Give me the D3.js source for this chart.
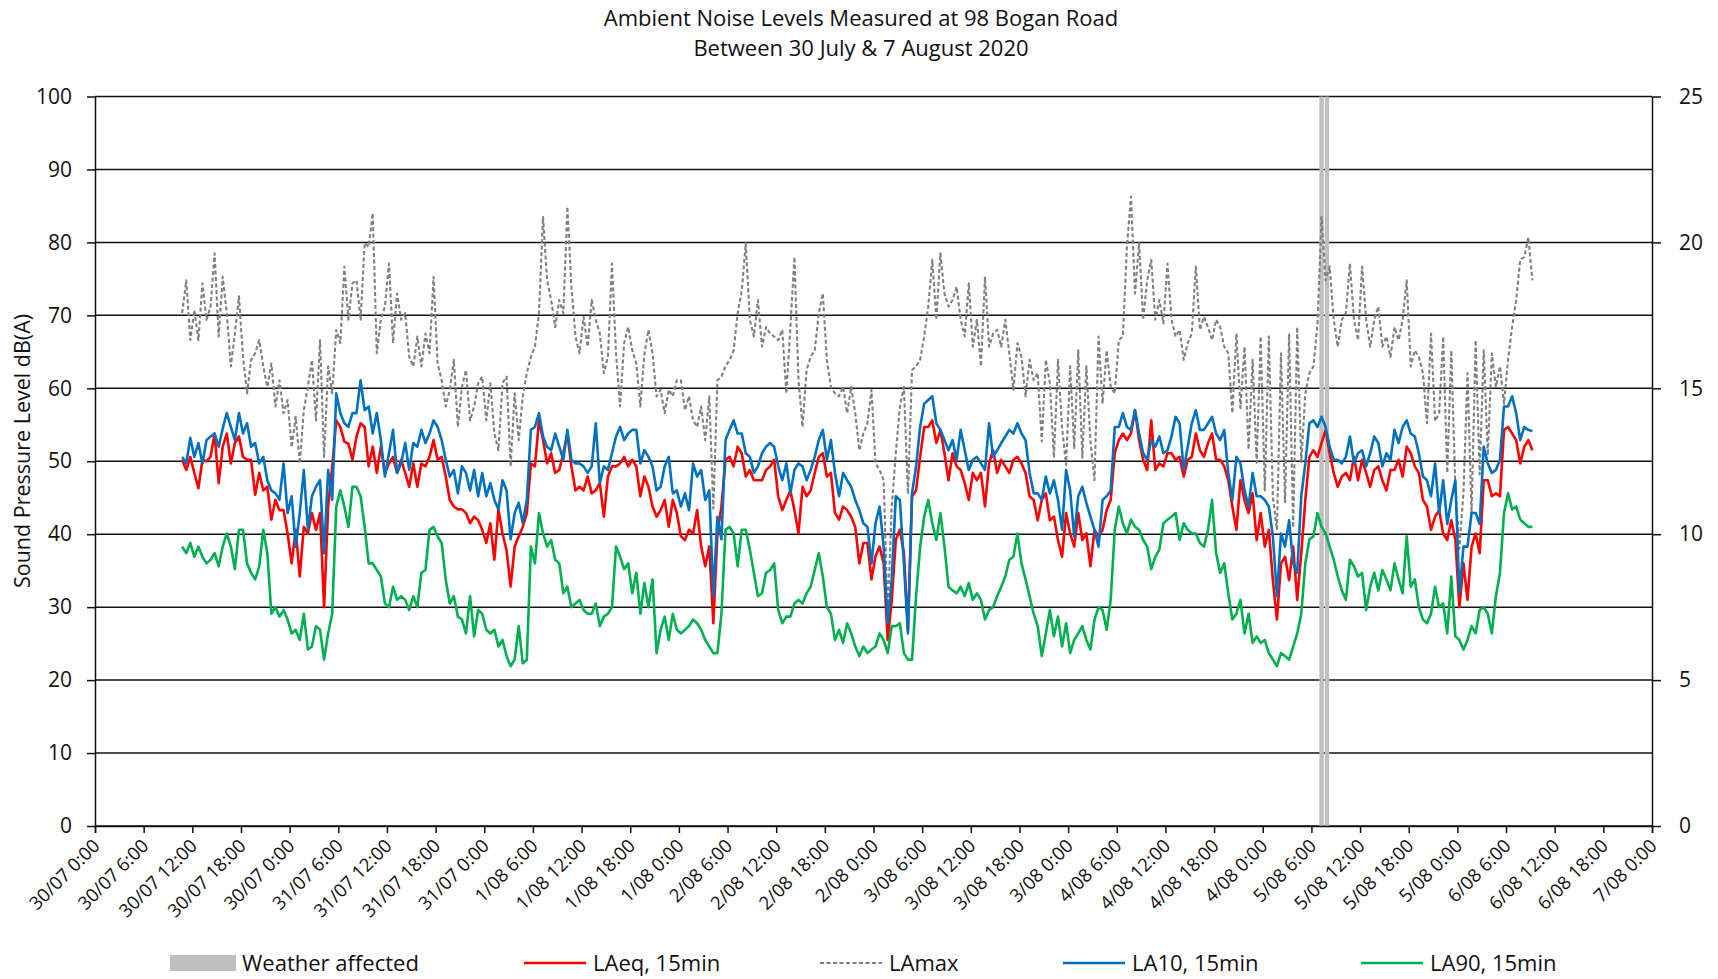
<!DOCTYPE html>
<html><head><meta charset="utf-8">
<script src="https://cdn.jsdelivr.net/npm/d3@7"></script>
<style>
body{margin:0;background:#fff;}
svg text{font-family:"Open Sans",sans-serif;fill:#111;}
</style></head><body>
<svg id="chart" width="1718" height="979"></svg>
<script>
// ---------------- data ----------------
const titleLines = ["Ambient Noise Levels Measured at 98 Bogan Road", "Between 30 July & 7 August 2020"];
const yAxisTitle = "Sound Pressure Level dB(A)";
const xDomain = ["2020-07-30T00:00:00", "2020-08-07T00:00:00"];
const tickLabels = ["30/07 0:00","30/07 6:00","30/07 12:00","30/07 18:00","30/07 0:00","31/07 6:00","31/07 12:00","31/07 18:00","31/07 0:00","1/08 6:00","1/08 12:00","1/08 18:00","1/08 0:00","2/08 6:00","2/08 12:00","2/08 18:00","2/08 0:00","3/08 6:00","3/08 12:00","3/08 18:00","3/08 0:00","4/08 6:00","4/08 12:00","4/08 18:00","4/08 0:00","5/08 6:00","5/08 12:00","5/08 18:00","5/08 0:00","6/08 6:00","6/08 12:00","6/08 18:00","7/08 0:00"];
const yLeftTicks = [0,10,20,30,40,50,60,70,80,90,100];
const yRightTicks = [0,5,10,15,20,25];
const firstReading = "2020-07-30T10:45:00";
const readingIntervalMinutes = 30;

const laeq = [50.2,48.8,50.6,48.4,46.3,50.2,50,50.6,53.8,47,52,53.8,49.7,52.5,53.4,50.6,50.2,50.2,45.4,48.4,46,46.5,42,44.7,43.3,43.3,40.1,36,40.6,34.2,41,40.1,42.9,40.6,42.9,30,43.8,49.2,55.6,54.7,52.7,52.4,50.2,
53.4,55.2,54.7,49.3,52,48.4,52,48.4,49.7,50.6,48.4,50.2,48.4,46.5,49.7,46.5,49.7,49.3,50.6,52.9,50.2,50.6,47.9,44.7,43.8,43.4,43.4,42.9,41.5,42.4,41.9,40.6,38.8,41.5,36.5,43.4,40.1,37.8,32.8,38.3,39.7,41,
42.9,49.7,49.3,55.6,52.9,49.7,51.1,48.4,48.8,51.1,53.8,49.3,46,46.5,46,47.9,45.6,46,47,42.4,47.9,49.3,49.3,49.7,50.6,49.3,50.2,49.3,45.2,47.9,46.5,43.8,42.4,43.3,44.7,41,44.7,42.9,39.7,39.2,40.6,40.1,
43.3,38.3,35.6,38.3,27.8,40.1,43.8,50.2,50.6,49.3,52,51.1,47.9,48.8,47.4,47.4,47.4,48.8,49.3,50.2,45.2,43.3,44.7,46,43.3,40.1,46.5,45.2,46,48.4,50.6,51.1,47.9,48.4,42.9,42,43.8,43.3,42.4,41,36,38.8,
38.8,33.8,37,38.3,36,25.5,31,39.2,40.6,37.4,26.9,45.2,46,50.6,54.7,54.7,55.6,52.5,54.3,51.1,47.4,51.1,49.3,48.8,47,44.7,48.4,47.4,48.4,43.8,49.7,51.5,48.4,50.2,49.3,48.4,50.2,50.6,49.7,48.4,45.2,44.7,
41.9,44.7,45.6,41.9,42.4,39.2,36.9,42.9,40.1,38.3,42.9,39.2,40.1,35.6,40.6,39.7,40.6,43.3,44.7,51.1,52.9,53.8,52.9,53.8,57,52.9,50.2,48.8,55.6,48.8,49.7,49.3,51.1,51.1,50.2,50.6,47.9,50.2,50.6,53.8,51.5,50.6,
52.5,53.8,50.2,50.2,49.3,47.4,43.8,40.6,47.4,44.7,42.9,45.6,39.2,42.9,38.3,40.6,33.7,28.3,36,36.9,33.7,38.3,31,37.4,44.7,50.6,51.5,50.6,52.5,54.3,51.1,48.4,46.5,47.9,48.4,47.4,50.6,47.4,50.2,48.4,46.5,48.8,
49.3,47.4,46,48.8,48.8,50.2,47.9,52,51.1,49.3,48.4,44.7,43.8,40.6,42.4,43.3,40.1,39.2,41.9,39.2,30,36,31,38.3,40.1,37.4,47.4,47.4,45.2,45.6,45.2,54.3,54.7,53.8,52.9,49.7,52,52.9,51.5];

const lamax = [70.3,74.8,66.6,70.7,66.6,74.4,69.4,71.2,78.5,67.1,75.3,70.3,63,67.5,72.6,64.3,59.3,63.9,64.8,66.6,63,60.2,63.4,57.5,61.1,56.6,58.4,51.9,56.1,49.7,57,60.2,63.9,55.6,66.6,50.6,63,59.3,68,66.2,76.7,69.4,74.4,
74.8,69.4,79.9,79.4,84,64.8,69.4,71.2,77.1,66.2,73,69.4,70.3,64.3,63,67.1,63,67.5,64.8,75.3,63.4,61.1,57.5,59.8,63.9,54.7,60.2,62.5,55.6,57.5,60.7,61.6,55.6,60.7,53.8,51.5,60.7,61.6,49.3,59.3,52.9,58.9,
62.1,64.3,65.7,70.3,83.5,74.8,72.1,68.4,72.1,70.3,84.9,73.9,67.1,64.8,69.8,65.7,72.1,69.4,67.5,62.1,64.3,77.1,64.8,57.5,66.2,68.4,65.2,63.4,57.5,64.8,68,64.8,58.9,59.8,56.6,59.8,58.9,61.1,61.1,57,58.9,55.6,
54.7,57.5,52.9,58.9,43.5,61.1,61.6,63,63.9,65.2,70.3,73.4,79.9,69.4,67.1,72.1,65.7,68.4,67.5,67.1,66.6,68,59.3,68.4,78,61.1,54.7,62.5,64.3,65.2,70.3,73,63.9,60.2,59.3,58.9,60.2,56.6,60.2,56.6,51.5,53.8,
55.2,59.8,49.7,48.8,47.4,29,43.8,51.1,57.5,60.2,45.5,62.5,63,63.9,67.1,71.2,77.6,69.4,78.5,73,71.2,72.1,73.9,69.4,67.1,74.4,65.7,69.4,63,75.3,65.7,67.5,68,65.7,69.4,64.8,59.8,66.2,64.3,58.9,63.9,61.1,
62.1,52.7,63.9,60.7,50.5,63.9,54.6,49.5,63,51.8,65.2,50.5,63,52.8,47.4,67.1,57.9,65.2,60.2,59.3,66.6,67.1,79.4,86.3,73,79.9,69.4,74.8,77.6,69.4,72.1,68.9,77.1,69.4,67.1,68,63.9,66.2,67.5,76.7,68,69.8,
68.4,66.6,69.4,68.4,65.7,64.8,56.6,67.5,57.3,65.7,51.6,63.9,49.8,67.1,46,67.1,45.1,40.6,64.8,44.4,67.5,40.9,68.4,49.9,59.3,62.1,63,68.9,83.5,74.8,76.7,69.4,65.7,69.4,70.3,77.1,69.4,66.6,76.7,69.4,65.7,69.4,
71.2,65.7,67.1,64.3,68.4,66.6,69.4,74.8,63,65.2,64.3,62.1,55.2,67.5,55.5,56.6,67.1,48.4,65.2,46.5,38,45.7,62.1,42.8,66.6,48.2,65.2,50.8,64.8,60.2,63,57.9,63.9,68.4,72.1,77.6,78,80.7,74.8];

const la10 = [50.6,49.7,53.2,50.6,52.5,49.7,52.9,53.4,53.8,52,54.5,56.6,54.7,52.9,56.6,53.8,55.2,52,52.5,49.7,50.6,47.4,46,45.6,44.7,49.7,42.9,45.2,38.3,42.9,48.8,40.6,45.2,46.5,47.4,37.4,48.8,44.7,59.3,56.6,55.2,54.7,56.6,
56.6,61.1,57,57.5,53.8,56.6,52.9,47.9,51.1,54.3,48.4,49.7,52.5,48.8,52.5,52,54.3,52.5,53.8,55.6,54.7,52.9,50.2,47.9,48.8,45.6,49.3,48.4,46,48.8,45.2,48.4,45.2,47,44.7,43.4,47.4,46,39.3,42.9,44.3,41.5,
44.7,54.3,54.7,56.6,53.4,52,51.5,53.8,52,50.2,54.3,50.2,49.7,49.7,49.3,48.4,49.3,55.2,47,49.3,48.8,51.1,53.4,54.7,52.9,53.8,54.3,54.3,49.7,51.5,50.6,49.3,46,46.5,49.3,50.6,45.6,46,43.8,45.6,43.3,49.7,
47.9,48.8,44.7,46,31.5,42.4,39.3,52.9,54.3,55.6,53.8,53.8,51.1,50.6,48.4,49.3,51.1,52,52.5,52,49.3,47.4,49.7,45.6,48.8,49.7,49.3,47.4,48.8,50.6,52.9,54.3,50.2,52.9,48.4,45.2,48.4,47.4,46.5,44.7,43.3,41.5,
41,36,41.5,43.8,38.3,27.8,33.8,45.2,44.7,36,26.4,45.6,49.3,54.7,57.9,58.4,58.9,55.2,54.3,52.9,51.5,52.9,50.2,54.3,51.5,48.8,50.2,50.6,49.7,48.8,55.2,50.6,51.5,52.5,53.4,54.3,53.8,55.2,53.8,52.9,48.4,45.6,
45.6,44.7,47.9,45.6,47.4,44.7,40.6,48.8,46,39.7,45.2,46.5,44.3,42.4,40.6,38.3,44.7,45.2,46,54.7,54.7,56.6,54.7,54.3,57,53.8,51.1,50.2,52.9,52,53.4,51.1,51.5,53.4,56.1,55.2,48.8,52,55.2,57,54.3,54.3,
55.2,56.1,53.8,52.9,54.3,48.4,44.7,50.6,49.7,46,43.8,48.4,45.2,45.2,44.7,43.8,39.7,31.5,40.1,38.3,41.9,36,34.7,45.2,49.7,55.2,55.6,54.7,56.1,54.7,52,50.2,50.2,49.7,50.6,53.4,49.7,51.1,51.5,49.3,51.1,53.4,
52.5,49.3,51.1,50.2,54.3,52.5,54.7,55.6,53.8,53.4,51.1,47.9,47.4,45.2,49.7,42.9,47.4,41.4,44.7,47.4,31.9,38.3,38.3,42.9,42.9,41.4,52,49.7,48.4,48.8,50.2,57.5,57.5,58.9,56.6,52.9,54.7,54.3,54.1];

const la90 = [38.3,37.4,38.8,36.9,38.3,36.9,36,36.5,37.4,35.6,38.3,40.1,38.3,35.2,40.6,40.6,36,34.7,33.8,35.6,40.6,37.4,29.1,30,28.7,29.6,28.3,26.4,26.9,25.5,29.1,24.2,24.6,27.4,26.9,22.8,26.4,29.1,43.8,46,43.8,41,46.5,
46.5,45.2,41,36,36,35.1,34.2,30.5,30,32.8,31,31.5,31,29.6,31.5,30,34.7,35.1,40.6,41,39.7,38.8,33.8,30.5,31.5,28.7,28.3,26.4,31.5,26,29.6,29.1,26.9,26.4,26.9,24.6,25.5,23.3,21.9,22.8,27.4,22.3,
22.8,38.3,36,42.9,40.1,38.3,39.2,36.5,36,31.9,32.8,30,30.5,31,29.6,29.1,29.1,30.5,27.4,28.7,29.1,30,38.3,36.9,35.2,36,31.9,34.7,29.1,33.3,30,33.8,23.7,26.9,28.7,25.5,29.1,26.9,26.4,26.9,27.4,28.3,
27.8,26.9,25.5,24.6,23.7,23.7,29.1,40.6,41,40.1,35.6,40.6,40.6,37.9,34.7,31.5,31.9,34.7,35.1,36,29.6,27.8,28.7,28.7,30.5,31,30.5,31.9,32.8,35.1,37.4,34.2,30,29.1,25.5,26.9,25.1,27.8,26.4,24.6,23.3,24.6,
23.7,24.2,24.6,26.4,25.5,23.7,27.4,27.4,27.8,23.7,22.8,22.8,31.5,38.3,42.4,44.7,41.5,39.2,42.9,38.3,32.8,32.3,31.9,32.8,31.5,33.3,31,31.9,31,28.3,29.6,30,31.5,32.8,34.2,36.5,36.9,40.1,36,33.8,31.5,29.1,
27.4,23.3,26.4,29.6,26,28.7,24.6,27.8,23.7,25.5,26.4,27.4,25.5,24.2,28.3,30,29.6,26.9,31,40.6,43.8,41.5,40.1,42,41,40.6,39.2,38.3,35.2,36.9,37.9,41.5,42,42.4,42.9,39.2,41.5,40.6,40.1,40.1,38.8,38.3,
40.6,44.7,37.4,34.7,36,31.9,28.3,29.1,31,26.4,29.1,25.1,26,25.1,25.5,23.7,22.8,21.9,23.7,23.3,22.8,24.6,26.4,29.1,36,39.3,39.7,42.9,41,40.1,38.3,36.5,34.2,32.3,31,36.5,35.6,34.2,34.7,29.6,32.8,34.7,
32.3,35.1,33.8,32.3,36,33.8,31.9,39.7,32.8,33.8,30,28.3,27.8,29.1,32.8,30,30.5,26.4,34.2,26,25.5,24.2,25.5,27.4,26.4,29.6,30,29.1,26.4,31.5,34.7,42.9,45.6,43.4,43.8,42,41.5,41,41];

const weatherAffected = ["2020-08-05T07:15:00", "2020-08-05T07:55:00"];
const weatherLevel = 25;

const seriesNames = ["LAeq, 15min", "LAmax", "LA10, 15min", "LA90, 15min"];
const seriesColors = ["#ff0000", "#808080", "#0070c0", "#00b050"];
const weatherName = "Weather affected";
const weatherColor = "#bfbfbf";

// ---------------- chart ----------------
const plot = {left: 95, right: 1652, top: 96.5, bottom: 826};
const svg = d3.select("#chart");
const parse = d3.timeParse("%Y-%m-%dT%H:%M:%S");

const x = d3.scaleTime().domain(xDomain.map(parse)).range([plot.left, plot.right]);
const y = d3.scaleLinear().domain([0, 100]).range([plot.bottom, plot.top]);
const y2 = d3.scaleLinear().domain([0, 25]).range([plot.bottom, plot.top]);

const t0 = parse(firstReading);
function toPoints(arr) {
  return arr.map((v, i) => ({t: d3.timeMinute.offset(t0, i * readingIntervalMinutes), v}));
}

// gridlines
svg.append("g").selectAll("line").data(yLeftTicks).join("line")
  .attr("x1", plot.left).attr("x2", plot.right)
  .attr("y1", d => y(d)).attr("y2", d => y(d))
  .attr("stroke", "#111").attr("stroke-width", 1.5);

// weather affected bars
const barW = 4.4;
svg.append("g").selectAll("rect").data(weatherAffected).join("rect")
  .attr("x", d => x(parse(d)) - barW / 2).attr("width", barW)
  .attr("y", y2(weatherLevel)).attr("height", y2(0) - y2(weatherLevel))
  .attr("fill", weatherColor);

// lines
const line = d3.line().x(d => x(d.t)).y(d => y(d.v));
const seriesData = [laeq, lamax, la10, la90];
const widths = [2.6, 2.1, 2.6, 2.6];
const dashes = [null, "4,2.5", null, null];
seriesData.forEach((arr, i) => {
  svg.append("path").datum(toPoints(arr))
    .attr("d", line).attr("fill", "none")
    .attr("stroke", seriesColors[i]).attr("stroke-width", widths[i])
    .attr("stroke-linejoin", "round")
    .attr("stroke-dasharray", dashes[i]);
});

// axes
const tickTimes = d3.timeHour.every(6).range(x.domain()[0], d3.timeMinute.offset(x.domain()[1], 1));
const xAxis = svg.append("g").attr("transform", `translate(0,${plot.bottom})`)
  .call(d3.axisBottom(x).tickValues(tickTimes).tickSize(7).tickFormat(""));
xAxis.select(".domain").attr("stroke", "#111").attr("stroke-width", 1.5);
xAxis.selectAll(".tick line").attr("stroke", "#111").attr("stroke-width", 1.5);
svg.append("g").selectAll("text").data(tickTimes).join("text")
  .attr("transform", d => `translate(${x(d) + 6},${plot.bottom + 21}) rotate(-45)`)
  .attr("text-anchor", "end").attr("font-size", 18.5)
  .text((d, i) => tickLabels[i]);

const yAxisL = svg.append("g").attr("transform", `translate(${plot.left},0)`)
  .call(d3.axisLeft(y).tickValues(yLeftTicks).tickSize(8).tickPadding(15).tickSizeOuter(0));
const yAxisR = svg.append("g").attr("transform", `translate(${plot.right},0)`)
  .call(d3.axisRight(y2).tickValues(yRightTicks).tickSize(9).tickPadding(18).tickSizeOuter(0));
[yAxisL, yAxisR].forEach(g => {
  g.select(".domain").attr("stroke", "#111").attr("stroke-width", 1.5);
  g.selectAll(".tick line").attr("stroke", "#111").attr("stroke-width", 1.5);
  g.selectAll(".tick text").attr("font-size", 21).attr("font-family", "Open Sans").attr("fill", "#111");
});

// title
svg.append("g").selectAll("text").data(titleLines).join("text")
  .attr("x", 861).attr("y", (d, i) => 26 + i * 30)
  .attr("text-anchor", "middle").attr("font-size", 22)
  .text(d => d);

// y axis title
svg.append("text").attr("transform", "translate(30,451) rotate(-90)")
  .attr("text-anchor", "middle").attr("font-size", 21.5).text(yAxisTitle);

// legend
const legY = 963;
const lg = svg.append("g");
lg.append("rect").attr("x", 170).attr("y", legY - 8).attr("width", 66).attr("height", 16).attr("fill", weatherColor);
lg.append("text").attr("x", 242).attr("y", legY).attr("dy", "0.35em").attr("font-size", 22).text(weatherName);
const legX = [524, 820, 1063, 1361];
seriesNames.forEach((n, i) => {
  lg.append("line").attr("x1", legX[i]).attr("x2", legX[i] + 62).attr("y1", legY).attr("y2", legY)
    .attr("stroke", seriesColors[i]).attr("stroke-width", widths[i])
    .attr("stroke-dasharray", dashes[i]);
  lg.append("text").attr("x", legX[i] + 69).attr("y", legY).attr("dy", "0.35em").attr("font-size", 22).text(n);
});
</script>
</body></html>
